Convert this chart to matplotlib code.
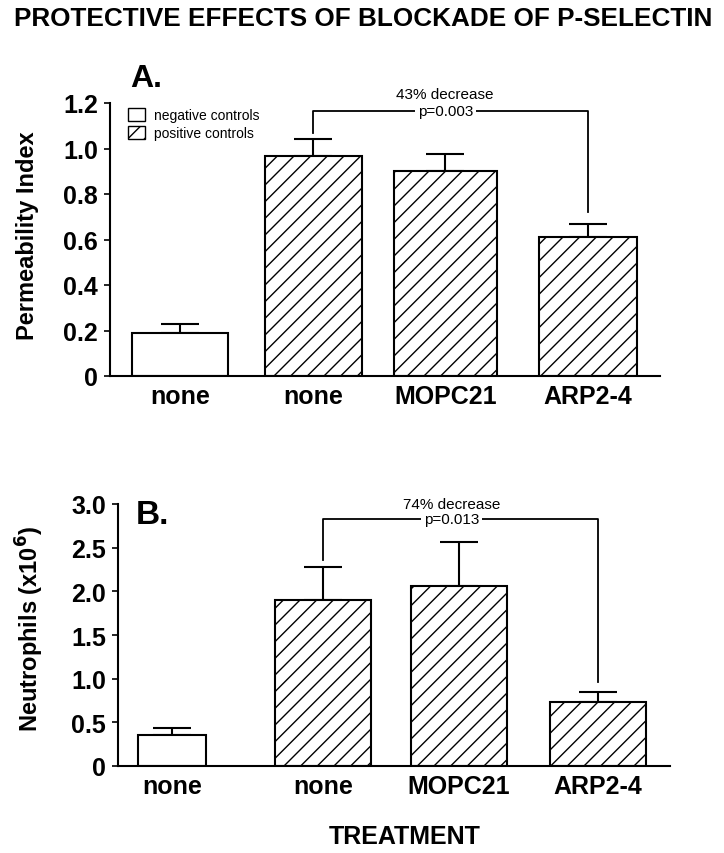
#protective effects of P-selectin blockade

import matplotlib
matplotlib.use('Agg')
import matplotlib.pyplot as plt
from matplotlib.patches import Patch
import numpy as np

plt.rcParams['font.family'] = ['Liberation Sans', 'DejaVu Sans']
plt.rcParams['hatch.linewidth'] = 1.0

categories = ['none', 'none', 'MOPC21', 'ARP2-4']
positive = [False, True, True, True]

perm_values = [0.19, 0.967, 0.90, 0.613]
perm_errors = [0.04, 0.075, 0.075, 0.053]

neut_values = [0.36, 1.90, 2.06, 0.73]
neut_errors = [0.08, 0.38, 0.51, 0.12]

perm_ticks = [0, 0.2, 0.4, 0.6, 0.8, 1.0, 1.2]
perm_ticklabels = ['0', '0.2', '0.4', '0.6', '0.8', '1.0', '1.2']
neut_ticks = [0, 0.5, 1.0, 1.5, 2.0, 2.5, 3.0]
neut_ticklabels = ['0', '0.5', '1.0', '1.5', '2.0', '2.5', '3.0']

W, H = 724, 854
fig = plt.figure(figsize=(W / 100, H / 100), dpi=100)


def fx(px):
    return px / W


def fy(py):
    return 1 - py / H


def draw_panel(ax, pos, widths, values, errors, ticks, ticklabels, ylim, xlim):
    for p, w, v, e, pc in zip(pos, widths, values, errors, positive):
        ax.bar(p, v, width=w, color='white', edgecolor='black', linewidth=1.5,
               hatch='//' if pc else None, zorder=2)
        ax.errorbar(p, v, yerr=[[0], [e]], fmt='none', ecolor='black',
                    elinewidth=1.5, capsize=14, capthick=1.5, zorder=1)
    ax.set_xlim(*xlim)
    ax.set_ylim(*ylim)
    ax.spines['top'].set_visible(False)
    ax.spines['right'].set_visible(False)
    ax.spines['left'].set_linewidth(1.5)
    ax.spines['bottom'].set_linewidth(1.5)
    ax.set_yticks(ticks, ticklabels)
    ax.set_xticks(pos, categories)
    ax.tick_params(axis='y', length=4.5, width=1.2, pad=4, labelsize=18)
    ax.tick_params(axis='x', length=0, pad=6, labelsize=18)
    for lbl in ax.get_xticklabels() + ax.get_yticklabels():
        lbl.set_fontweight('bold')


def bracket(ax, x1, x2, y_left, y_top, y_right, top_text, p_text, text_x, text_y):
    ax.plot([x1, x1, x2, x2], [y_left, y_top, y_top, y_right], color='black',
            linewidth=1.3, clip_on=False, zorder=3)
    ax.text(text_x, y_top, p_text, ha='center', va='center', fontsize=11,
            bbox=dict(facecolor='white', edgecolor='none', pad=2), zorder=4, clip_on=False)
    ax.text(text_x, text_y, top_text, ha='center', va='center', fontsize=11, clip_on=False)


# panel A
ax_a = fig.add_axes([fx(110), fy(377), fx(550), 273 / H])
pos_a = [0, 0.98, 1.95, 3.0]
draw_panel(ax_a, pos_a, [0.71, 0.71, 0.76, 0.72], perm_values, perm_errors,
           perm_ticks, perm_ticklabels, (0, 1.2), (-0.515, 3.529))
bracket(ax_a, pos_a[1], pos_a[3], 1.07, 1.165, 0.72, '43% decrease', 'p=0.003',
        pos_a[2], 1.24)

handles = [Patch(facecolor='white', edgecolor='black', linewidth=1.0, label='negative controls'),
           Patch(facecolor='white', edgecolor='black', linewidth=1.0, hatch='//', label='positive controls')]
fig.legend(handles=handles, loc='upper left', bbox_to_anchor=(fx(128), fy(109)),
           frameon=False, fontsize=10, handlelength=1.2, handleheight=1.1,
           handletextpad=0.7, labelspacing=0.25, borderpad=0, borderaxespad=0)

fig.text(fx(130), fy(79), 'A.', fontsize=23, fontweight='bold', ha='left', va='center')
fig.text(fx(28), fy(236), 'Permeability Index', fontsize=17, fontweight='bold',
         rotation=90, ha='center', va='center')

# panel B
ax_b = fig.add_axes([fx(118), fy(767), fx(552), 262 / H])
pos_b = [0, 1.063, 2.02, 3.0]
draw_panel(ax_b, pos_b, [0.48, 0.68, 0.68, 0.68], neut_values, neut_errors,
           neut_ticks, neut_ticklabels, (0, 3.0), (-0.38, 3.507))
bracket(ax_b, pos_b[1], pos_b[3], 2.36, 2.83, 0.96, '74% decrease', 'p=0.013',
        1.97, 3.0)

fig.text(fx(136), fy(516), 'B.', fontsize=24, fontweight='bold', ha='left', va='center')
fig.text(fx(30), fy(629), 'Neutrophils (x10$^{\\mathbf{6}}$)', fontsize=17, fontweight='bold',
         rotation=90, ha='center', va='center')

fig.text(fx(405), fy(837), 'TREATMENT', fontsize=18, fontweight='bold', ha='center', va='center')
fig.text(fx(363), fy(19), 'PROTECTIVE EFFECTS OF BLOCKADE OF P-SELECTIN', fontsize=18.8,
         fontweight='bold', ha='center', va='center')

fig.savefig('out.png', dpi=100)
